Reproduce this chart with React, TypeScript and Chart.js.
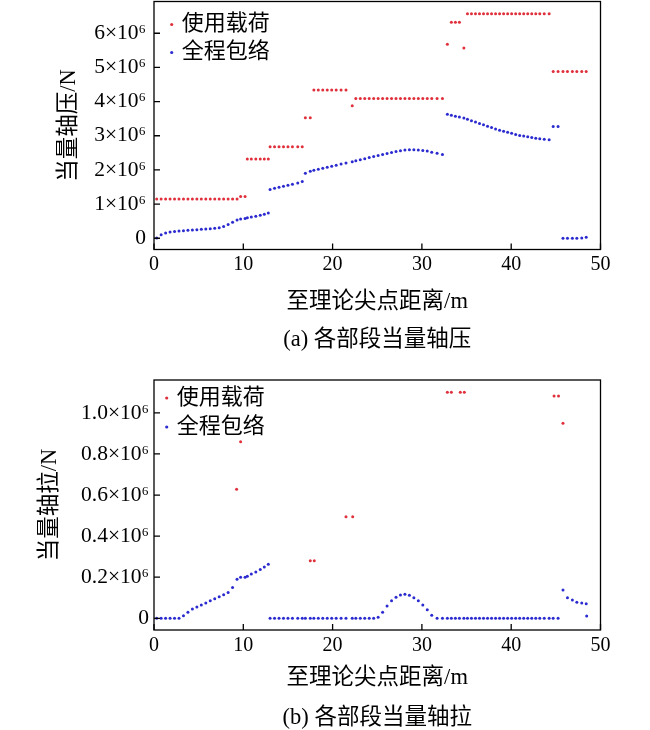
import React, { useEffect, useRef } from "react";
import { Chart, registerables } from "chart.js";

Chart.register(...registerables);

// ---- data (values in units of 10^6 N, distance in m) ----
const stationM = [
  0.3, 0.8, 1.3, 1.8, 2.3, 2.8, 3.3, 3.8, 4.3, 4.8, 5.3, 5.8, 6.3, 6.8, 7.3, 7.8, 8.3, 8.8, 9.3,
  9.7, 10.2,
  10.45, 10.9, 11.4, 11.9, 12.35, 12.8,
  13.0, 13.5, 14.0, 14.5, 15.0, 15.5, 16.1, 16.6,
  16.95, 17.5,
  17.9, 18.4, 18.9, 19.4, 19.9, 20.4, 20.95, 21.5,
  22.2,
  22.6, 23.1, 23.6, 24.1, 24.6, 25.1, 25.6, 26.1, 26.6, 27.1, 27.6, 28.1, 28.6, 29.1, 29.6, 30.1, 30.6, 31.1, 31.7, 32.3,
  32.85,
  33.3, 33.75, 34.2,
  34.7,
  35.1, 35.55, 36.0, 36.45, 36.9, 37.35, 37.8, 38.25, 38.7, 39.15, 39.6, 40.05, 40.5, 40.95, 41.4, 41.85, 42.3, 42.75, 43.2, 43.7, 44.25,
  44.7, 45.25, 45.8, 46.3, 46.85, 47.35, 47.9, 48.4,
];

const serviceCompression = [
  1.15, 1.15, 1.15, 1.15, 1.15, 1.15, 1.15, 1.15, 1.15, 1.15, 1.15, 1.15, 1.15, 1.15, 1.15, 1.15, 1.15, 1.15, 1.15,
  1.22, 1.22,
  2.32, 2.32, 2.32, 2.32, 2.32, 2.32,
  2.68, 2.68, 2.68, 2.68, 2.68, 2.68, 2.68, 2.68,
  3.53, 3.53,
  4.34, 4.34, 4.34, 4.34, 4.34, 4.34, 4.34, 4.34,
  3.88,
  4.09, 4.09, 4.09, 4.09, 4.09, 4.09, 4.09, 4.09, 4.09, 4.09, 4.09, 4.09, 4.09, 4.09, 4.09, 4.09, 4.09, 4.09, 4.09, 4.09,
  5.68,
  6.32, 6.32, 6.32,
  5.57,
  6.57, 6.57, 6.57, 6.57, 6.57, 6.57, 6.57, 6.57, 6.57, 6.57, 6.57, 6.57, 6.57, 6.57, 6.57, 6.57, 6.57, 6.57, 6.57, 6.57, 6.57,
  4.88, 4.88, 4.88, 4.88, 4.88, 4.88, 4.88, 4.88,
];

const envelopeCompression = [
  0.01, 0.1, 0.15, 0.18, 0.2, 0.21, 0.22, 0.23, 0.24, 0.25, 0.26, 0.27, 0.28, 0.29, 0.31, 0.34, 0.4, 0.47, 0.53,
  0.56, 0.58,
  0.6, 0.62, 0.64, 0.67, 0.7, 0.74,
  1.43, 1.46, 1.49, 1.52, 1.55, 1.58, 1.62, 1.66,
  1.9, 1.96,
  1.99, 2.02, 2.05, 2.08, 2.11, 2.14, 2.17, 2.2,
  2.24,
  2.27, 2.3, 2.33, 2.36, 2.39, 2.42, 2.45, 2.48, 2.51, 2.54, 2.56, 2.58, 2.59, 2.59, 2.58, 2.57, 2.55, 2.52, 2.49, 2.45,
  3.63,
  3.6, 3.57, 3.55,
  3.52,
  3.48, 3.44, 3.4, 3.36, 3.32, 3.28, 3.24, 3.2, 3.16, 3.13, 3.1, 3.07, 3.04, 3.01, 2.99, 2.97, 2.95, 2.93, 2.91, 2.9, 2.88,
  3.27, 3.27, 0.0, 0.0, 0.0, 0.0, 0.01, 0.03,
];

const envelopeTension = [
  0, 0, 0, 0, 0, 0, 0.012, 0.03, 0.045, 0.055, 0.065, 0.075, 0.085, 0.095, 0.105, 0.115, 0.125, 0.15, 0.19,
  0.2, 0.2,
  0.205, 0.215, 0.225, 0.238, 0.25, 0.263,
  0, 0, 0, 0, 0, 0, 0, 0,
  0, 0,
  0, 0, 0, 0, 0, 0, 0, 0,
  0,
  0, 0, 0, 0, 0, 0.005, 0.03, 0.06, 0.085, 0.103, 0.113, 0.117, 0.112, 0.1, 0.085, 0.065, 0.042, 0.015, 0, 0,
  0,
  0, 0, 0,
  0,
  0, 0, 0, 0, 0, 0, 0, 0, 0, 0, 0, 0, 0, 0, 0, 0, 0, 0, 0, 0, 0,
  0, 0, 0.138, 0.1, 0.089, 0.078, 0.074, 0.071,
];
const tensionTailM = [48.45];
const tensionTail = [0.011];

const serviceTensionM = [9.25, 9.7, 17.5, 17.95, 21.5, 22.25, 32.85, 33.3, 34.3, 34.75, 44.8, 45.3, 45.8];
const serviceTension = [0.628, 0.859, 0.28, 0.28, 0.494, 0.494, 1.1, 1.1, 1.1, 1.1, 1.082, 1.082, 0.949];

const seriesNames = ["使用载荷", "全程包络"];
const xTickValues = [0, 10, 20, 30, 40, 50];
const compTickValues = [0, 1, 2, 3, 4, 5, 6];
const compTickLabels = ["0", "1×10⁶", "2×10⁶", "3×10⁶", "4×10⁶", "5×10⁶", "6×10⁶"];
const tensTickValues = [0, 0.2, 0.4, 0.6, 0.8, 1.0];
const tensTickLabels = ["0", "0.2×10⁶", "0.4×10⁶", "0.6×10⁶", "0.8×10⁶", "1.0×10⁶"];

const RED = "#e0303c";
const BLUE = "#2b2bd0";
const FONT = "'Liberation Serif', 'Times New Roman', 'Noto Sans CJK SC', serif";

const pairs = (xs: number[], ys: number[]) => xs.map((x, i) => ({ x, y: ys[i] }));

const frameTicks = {
  id: "frameTicks",
  afterDraw(chart: any) {
    const { ctx, chartArea: a, scales } = chart;
    ctx.save();
    ctx.strokeStyle = "#000";
    ctx.lineWidth = 1.3;
    ctx.strokeRect(a.left, a.top, a.right - a.left, a.bottom - a.top);
    ctx.beginPath();
    scales.x.ticks.forEach((t: any) => {
      const p = scales.x.getPixelForValue(t.value);
      ctx.moveTo(p, a.bottom);
      ctx.lineTo(p, a.bottom - 6);
    });
    scales.y.ticks.forEach((t: any) => {
      const p = scales.y.getPixelForValue(t.value);
      ctx.moveTo(a.left, p);
      ctx.lineTo(a.left + 6, p);
    });
    ctx.stroke();
    ctx.restore();
  },
};

const insideLegend = {
  id: "insideLegend",
  afterDraw(chart: any, _args: any, opts: any) {
    const { ctx, chartArea: a } = chart;
    ctx.save();
    chart.data.datasets.forEach((ds: any, i: number) => {
      const y = a.top + opts.top + i * opts.gap;
      ctx.fillStyle = ds.backgroundColor;
      ctx.beginPath();
      ctx.arc(a.left + opts.dot, y, 1.6, 0, Math.PI * 2);
      ctx.fill();
      ctx.fillStyle = "#000";
      ctx.font = `22px ${FONT}`;
      ctx.textBaseline = "middle";
      ctx.textAlign = "left";
      ctx.fillText(ds.label, a.left + opts.text, y);
    });
    ctx.restore();
  },
};

type Cfg = {
  datasets: any[];
  yMin: number;
  yMax: number;
  yTicks: number[];
  yLabels: string[];
  yTitle: string;
  yTitlePad: number;
  yTickPad: number;
  xTickPad: number;
  xHeight: number;
  xTitlePad: number;
  caption: string;
  layoutPad: any;
  legend: any;
};

function makeConfig(c: Cfg): any {
  return {
    type: "scatter",
    data: { datasets: c.datasets },
    plugins: [frameTicks, insideLegend],
    options: {
      animation: false,
      responsive: true,
      maintainAspectRatio: false,
      layout: { padding: c.layoutPad },
      scales: {
        x: {
          type: "linear",
          position: "bottom",
          min: 0,
          max: 50,
          afterBuildTicks: (s: any) => {
            s.ticks = xTickValues.map((v) => ({ value: v }));
          },
          afterFit: (s: any) => {
            s.height = c.xHeight;
            s.paddingLeft = 0;
            s.paddingRight = 0;
          },
          grid: { display: false, drawTicks: false },
          border: { display: false },
          ticks: {
            autoSkip: false,
            maxRotation: 0,
            padding: c.xTickPad,
            color: "#000",
            font: { family: FONT, size: 20 },
          },
          title: {
            display: true,
            text: "至理论尖点距离/m",
            color: "#000",
            font: { family: FONT, size: 22.5 },
            padding: { top: 0, bottom: c.xTitlePad },
          },
        },
        y: {
          type: "linear",
          min: c.yMin,
          max: c.yMax,
          afterBuildTicks: (s: any) => {
            s.ticks = c.yTicks.map((v) => ({ value: v }));
          },
          afterFit: (s: any) => {
            s.width = 154;
            s.paddingTop = 0;
            s.paddingBottom = 0;
          },
          grid: { display: false, drawTicks: false },
          border: { display: false },
          ticks: {
            autoSkip: false,
            padding: c.yTickPad,
            color: "#000",
            font: { family: FONT, size: 21.5 },
            callback: (_v: any, i: number) => c.yLabels[i],
          },
          title: {
            display: true,
            text: c.yTitle,
            color: "#000",
            font: { family: FONT, size: 22.5 },
            padding: { top: c.yTitlePad, bottom: 0 },
          },
        },
      },
      plugins: {
        legend: { display: false },
        tooltip: { enabled: false },
        insideLegend: c.legend,
        title: {
          display: true,
          position: "bottom",
          fullSize: false,
          text: c.caption,
          color: "#000",
          font: { family: FONT, size: 22.5, weight: "normal", lineHeight: 1 },
          padding: { top: 7, bottom: 0 },
        },
      },
      elements: { point: { radius: 1.5, borderWidth: 0, hoverRadius: 1.5 } },
    },
  };
}

function ChartBox({ cfg, top, height }: { cfg: any; top: number; height: number }) {
  const ref = useRef<HTMLCanvasElement | null>(null);
  useEffect(() => {
    if (!ref.current) return;
    const chart = new Chart(ref.current, cfg);
    return () => chart.destroy();
  }, [cfg]);
  return (
    <div style={{ position: "absolute", left: 0, top, width: 650, height }}>
      <canvas ref={ref} />
    </div>
  );
}

const compCfg = makeConfig({
  datasets: [
    { label: seriesNames[0], data: pairs(stationM, serviceCompression), backgroundColor: RED, pointBackgroundColor: RED },
    { label: seriesNames[1], data: pairs(stationM, envelopeCompression), backgroundColor: BLUE, pointBackgroundColor: BLUE },
  ],
  yMin: -0.33,
  yMax: 6.93,
  yTicks: compTickValues,
  yLabels: compTickLabels,
  yTitle: "当量轴压/N",
  yTitlePad: 56,
  yTickPad: 8,
  xTickPad: 3,
  xHeight: 72,
  xTitlePad: 5.5,
  caption: "(a) 各部段当量轴压",
  layoutPad: { top: 1, right: 49.5, bottom: 14, left: 0 },
  legend: { top: 23, gap: 28, dot: 17.7, text: 27.7 },
});

const tensCfg = makeConfig({
  datasets: [
    { label: seriesNames[0], data: pairs(serviceTensionM, serviceTension), backgroundColor: RED, pointBackgroundColor: RED },
    {
      label: seriesNames[1],
      data: pairs(stationM, envelopeTension).concat(pairs(tensionTailM, tensionTail)),
      backgroundColor: BLUE,
      pointBackgroundColor: BLUE,
    },
  ],
  yMin: -0.057,
  yMax: 1.16,
  yTicks: tensTickValues,
  yLabels: tensTickLabels,
  yTitle: "当量轴拉/N",
  yTitlePad: 37,
  yTickPad: 5,
  xTickPad: 4,
  xHeight: 70,
  xTitlePad: 8.5,
  caption: "(b) 各部段当量轴拉",
  layoutPad: { top: 18, right: 49.5, bottom: 0.5, left: 0 },
  legend: { top: 18, gap: 29, dot: 12.7, text: 22.7 },
});

export default function App() {
  return (
    <div style={{ position: "absolute", left: 0, top: 0, width: 650, height: 730, background: "#fff" }}>
      <ChartBox cfg={compCfg} top={0} height={365} />
      <ChartBox cfg={tensCfg} top={362} height={368} />
    </div>
  );
}
